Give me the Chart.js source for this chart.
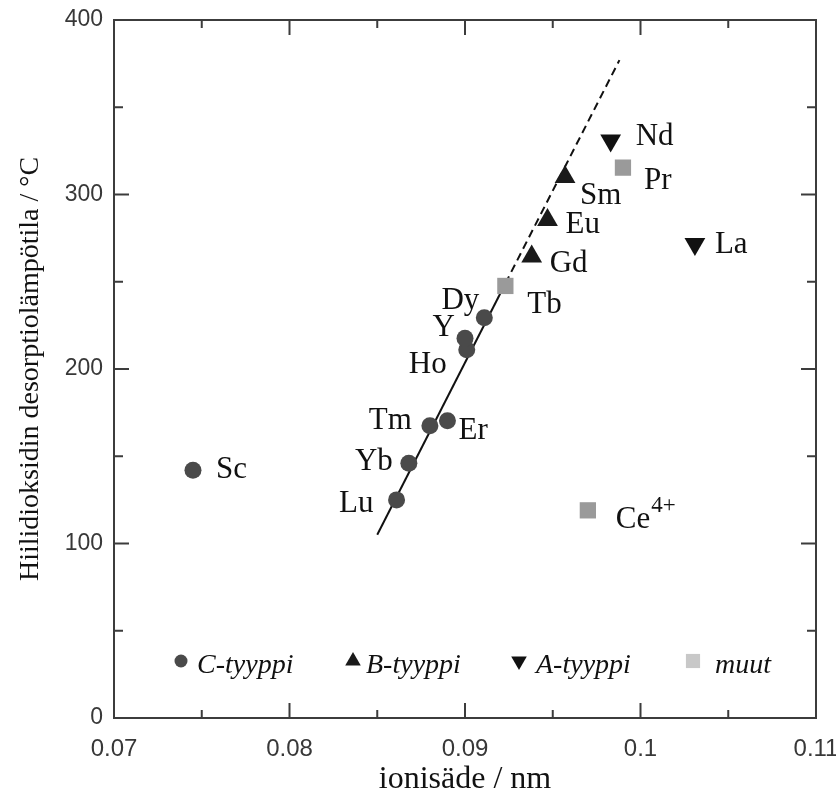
<!DOCTYPE html>
<html><head><meta charset="utf-8">
<script src="https://cdn.jsdelivr.net/npm/chart.js@4"></script>
<style>html,body{margin:0;padding:0;background:#fff}#wrap{width:836px;height:799px}</style>
</head><body><div id="wrap"><canvas id="c" width="836" height="799"></canvas></div>
<script>
// ---- data ----
const xTicks = [0.07, 0.08, 0.09, 0.1, 0.11];
const xTickLabels = ['0.07', '0.08', '0.09', '0.1', '0.11'];
const xMinorTicks = [0.075, 0.085, 0.095, 0.105];
const yTicks = [0, 100, 200, 300, 400];
const yTickLabels = ['0', '100', '200', '300', '400'];
const yMinorTicks = [50, 150, 250, 350];

const seriesNames = ['C-tyyppi', 'B-tyyppi', 'A-tyyppi', 'muut'];

const elementsC = ['Sc', 'Lu', 'Yb', 'Tm', 'Er', 'Ho', 'Y', 'Dy'];
const radiusC = [0.0745, 0.0861, 0.0868, 0.0880, 0.0890, 0.0901, 0.0900, 0.0911];
const tempC = [142, 125, 146, 167.5, 170.4, 211, 217.6, 229.4];

const elementsB = ['Gd', 'Eu', 'Sm'];
const radiusB = [0.0938, 0.0947, 0.0957];
const tempB = [264.4, 285.4, 310];

const elementsA = ['Nd', 'La'];
const radiusA = [0.0983, 0.1031];
const tempA = [331, 271.6];

const elementsM = ['Tb', 'Pr', 'Ce4+'];
const radiusM = [0.0923, 0.0990, 0.0970];
const tempM = [247.6, 315.4, 119];

const fitSolidX = [0.085, 0.0923];
const fitSolidY = [105, 249];
const fitDashX = [0.0923, 0.0988];
const fitDashY = [249, 377];

// ---- styles ----
const LABEL_FONT = '31px "Liberation Serif", "Times New Roman", serif';
const SUP_FONT = '23px "Liberation Serif", "Times New Roman", serif';
const LEGEND_FONT = 'italic 28px "Liberation Serif", "Times New Roman", serif';
const TICK_FAMILY = '"Liberation Sans", Arial, sans-serif';
const AXIS_COLOR = '#3c3c3c';
const labelPlacement = {
  Sc: {dx: 23, dy: 8, align: 'left'},
  Lu: {dx: -23, dy: 12, align: 'right'},
  Yb: {dx: -16, dy: 7, align: 'right'},
  Tm: {dx: -18, dy: 3, align: 'right'},
  Er: {dx: 11, dy: 18, align: 'left'},
  Ho: {dx: -20, dy: 23, align: 'right'},
  Y: {dx: -10, dy: -2, align: 'right'},
  Dy: {dx: -5, dy: -9, align: 'right'},
  Gd: {dx: 18, dy: 15, align: 'left'},
  Eu: {dx: 18, dy: 13, align: 'left'},
  Sm: {dx: 15, dy: 27, align: 'left'},
  Nd: {dx: 25, dy: 5, align: 'left'},
  La: {dx: 20, dy: 9, align: 'left'},
  Tb: {dx: 22, dy: 27, align: 'left'},
  Pr: {dx: 21, dy: 21, align: 'left'},
  'Ce4+': {dx: 28, dy: 18, align: 'left'}
};
const legendItems = [
  {x: 181, tx: 197, style: 'circle', r: 6.5, color: '#4a4a4a', rot: 0},
  {x: 353, tx: 366, style: 'triangle', r: 9, color: '#1a1a1a', rot: 0},
  {x: 519, tx: 536, style: 'triangle', r: 9, color: '#111111', rot: 180},
  {x: 693, tx: 715, style: 'rect', r: 10, color: '#c8c8c8', rot: 0}
];
const LEGEND_Y = 661;

const toPts = (xs, ys) => xs.map((x, i) => ({x: x, y: ys[i]}));

const seriesList = [
  {names: elementsC, xs: radiusC, ys: tempC},
  {names: elementsB, xs: radiusB, ys: tempB},
  {names: elementsA, xs: radiusA, ys: tempA},
  {names: elementsM, xs: radiusM, ys: tempM}
];

const decorPlugin = {
  id: 'decor',
  afterDatasetsDraw(chart) {
    const ctx = chart.ctx, xs = chart.scales.x, ys = chart.scales.y;
    const a = chart.chartArea;
    ctx.save();
    ctx.strokeStyle = AXIS_COLOR; ctx.lineWidth = 2;
    ctx.strokeRect(a.left, a.top, a.right - a.left, a.bottom - a.top);
    const tick = (vals, len, isX) => {
      vals.forEach(v => {
        ctx.beginPath();
        if (isX) {
          const p = xs.getPixelForValue(v);
          ctx.moveTo(p, a.bottom); ctx.lineTo(p, a.bottom - len);
          ctx.moveTo(p, a.top); ctx.lineTo(p, a.top + len);
        } else {
          const p = ys.getPixelForValue(v);
          ctx.moveTo(a.left, p); ctx.lineTo(a.left + len, p);
          ctx.moveTo(a.right, p); ctx.lineTo(a.right - len, p);
        }
        ctx.stroke();
      });
    };
    tick(xTicks, 15, true); tick(xMinorTicks, 8, true);
    tick(yTicks, 15, false); tick(yMinorTicks, 9, false);
    ctx.fillStyle = '#111';
    ctx.textBaseline = 'alphabetic';
    seriesList.forEach(s => s.names.forEach((n, i) => {
      const px = xs.getPixelForValue(s.xs[i]);
      const py = ys.getPixelForValue(s.ys[i]);
      const pl = labelPlacement[n] || {dx: 15, dy: 10, align: 'left'};
      const m = n.match(/^([A-Za-z]+)(\d\+)$/);
      ctx.font = LABEL_FONT;
      ctx.textAlign = pl.align;
      if (m) {
        ctx.fillText(m[1], px + pl.dx, py + pl.dy);
        const w = ctx.measureText(m[1]).width;
        ctx.font = SUP_FONT;
        ctx.textAlign = 'left';
        ctx.fillText(m[2], px + pl.dx + w + 1, py + pl.dy - 16);
      } else {
        ctx.fillText(n, px + pl.dx, py + pl.dy);
      }
    }));
    legendItems.forEach((it, i) => {
      ctx.fillStyle = it.color;
      Chart.helpers.drawPoint(ctx, {pointStyle: it.style, radius: it.r, rotation: it.rot, borderWidth: 0}, it.x, LEGEND_Y);
      ctx.fillStyle = '#111';
      ctx.font = LEGEND_FONT;
      ctx.textAlign = 'left';
      ctx.fillText(seriesNames[i], it.tx, LEGEND_Y + 12);
    });
    ctx.restore();
  }
};

new Chart(document.getElementById('c'), {
  type: 'scatter',
  data: {
    datasets: [
      {label: seriesNames[0], data: toPts(radiusC, tempC), pointStyle: 'circle', pointRadius: 8.5,
       backgroundColor: '#4a4a4a', borderColor: '#4a4a4a', borderWidth: 0, order: 0},
      {label: seriesNames[1], data: toPts(radiusB, tempB), pointStyle: 'triangle', pointRadius: 12,
       backgroundColor: '#1a1a1a', borderColor: '#1a1a1a', borderWidth: 0, order: 0},
      {label: seriesNames[2], data: toPts(radiusA, tempA), pointStyle: 'triangle', pointRotation: 180, pointRadius: 12,
       backgroundColor: '#111111', borderColor: '#111111', borderWidth: 0, order: 0},
      {label: seriesNames[3], data: toPts(radiusM, tempM), pointStyle: 'rect', pointRadius: 11.5,
       backgroundColor: '#9a9a9a', borderColor: '#9a9a9a', borderWidth: 0, order: 0},
      {type: 'line', label: 'fit', data: toPts(fitSolidX, fitSolidY), showLine: true, pointRadius: 0,
       borderColor: '#111', borderWidth: 2, fill: false, order: 5},
      {type: 'line', label: 'fit-ext', data: toPts(fitDashX, fitDashY), showLine: true, pointRadius: 0,
       borderColor: '#111', borderWidth: 2, borderDash: [8, 5], fill: false, order: 5}
    ]
  },
  options: {
    responsive: false,
    animation: false,
    layout: {padding: {top: 20, right: 20, left: 0, bottom: 0}},
    plugins: {legend: {display: false}, tooltip: {enabled: false}},
    scales: {
      x: {
        type: 'linear', min: 0.07, max: 0.11,
        afterBuildTicks: s => { s.ticks = xTicks.map(v => ({value: v})); },
        afterFit: s => { s.height = 81; s.paddingLeft = 0; s.paddingRight = 0; },
        grid: {display: false, drawTicks: false},
        border: {display: false},
        ticks: {padding: 17, color: '#383838', font: {family: TICK_FAMILY, size: 24},
                maxRotation: 0, autoSkip: false, callback: (v, i) => xTickLabels[i]},
        title: {display: true, text: 'ionisäde / nm', color: '#111',
                font: {family: '"Liberation Serif", "Times New Roman", serif', size: 32},
                padding: {top: 0, bottom: 0}}
      },
      y: {
        type: 'linear', min: 0, max: 400,
        afterBuildTicks: s => { s.ticks = yTicks.map(v => ({value: v})); },
        afterFit: s => { s.width = 114; s.paddingTop = 0; s.paddingBottom = 0; },
        grid: {display: false, drawTicks: false},
        border: {display: false},
        ticks: {padding: 11, color: '#383838', font: {family: TICK_FAMILY, size: 23},
                autoSkip: false, callback: (v, i) => yTickLabels[i]},
        title: {display: true, text: 'Hiilidioksidin desorptiolämpötila / °C', color: '#111',
                font: {family: '"Liberation Serif", "Times New Roman", serif', size: 28},
                padding: {top: 14, bottom: 0}}
      }
    }
  },
  plugins: [decorPlugin]
});
</script>
</body></html>
